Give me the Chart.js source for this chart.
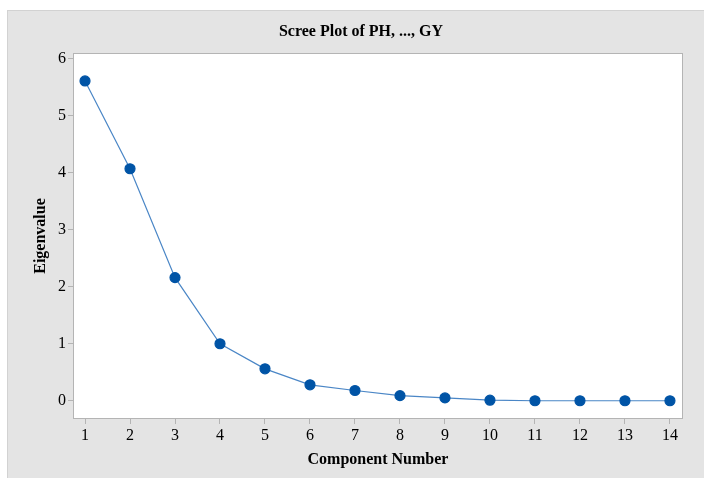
<!DOCTYPE html>
<html>
<head>
<meta charset="utf-8">
<script src="https://cdn.jsdelivr.net/npm/chart.js@4/dist/chart.umd.min.js"></script>
<style>
  html, body { margin: 0; padding: 0; background: #ffffff; }
  #wrap { width: 704px; height: 478px; }
</style>
</head>
<body>
<div id="wrap"><canvas id="screeChart" width="704" height="478"></canvas></div>
<script>
// data
const components = [1, 2, 3, 4, 5, 6, 7, 8, 9, 10, 11, 12, 13, 14];
const eigenvalues = [5.61, 4.07, 2.16, 1.00, 0.56, 0.28, 0.18, 0.09, 0.05, 0.01, 0.00, 0.00, 0.00, 0.00];
const yTicks = [0, 1, 2, 3, 4, 5, 6];

const serif = '"Liberation Serif", "DejaVu Serif", serif';

// gray frame, white plot area and the title
const backdrop = {
    id: 'backdrop',
    beforeDraw(chart) {
        const ctx = chart.ctx;
        const a = chart.chartArea;
        ctx.save();
        ctx.fillStyle = '#e4e4e4';
        ctx.fillRect(7, 10, chart.width - 7, chart.height - 10);
        ctx.strokeStyle = '#d2d2d2';
        ctx.lineWidth = 1;
        ctx.strokeRect(7.5, 10.5, chart.width - 7, chart.height - 10);
        ctx.fillStyle = '#ffffff';
        ctx.fillRect(a.left, a.top, a.right - a.left, a.bottom - a.top);
        ctx.restore();
    },
    afterDraw(chart) {
        const ctx = chart.ctx;
        const a = chart.chartArea;
        ctx.save();
        ctx.strokeStyle = '#b4b4b4';
        ctx.lineWidth = 1;
        ctx.strokeRect(a.left + 0.5, a.top + 0.5, a.right - a.left - 1, a.bottom - a.top - 1);
        ctx.fillStyle = '#000000';
        ctx.font = 'bold 16px ' + serif;
        ctx.textAlign = 'center';
        ctx.textBaseline = 'middle';
        ctx.fillText('Scree Plot of PH, ..., GY', 361, 32);
        ctx.restore();
    }
};

const screeConfig = {
    type: 'line',
    data: {
        labels: components,
        datasets: [{
            label: 'Eigenvalue',
            data: components.map((c, i) => ({ x: c, y: eigenvalues[i] })),
            borderColor: '#4a86c6',
            borderWidth: 1.2,
            backgroundColor: '#0054a6',
            pointBackgroundColor: '#0054a6',
            pointBorderColor: '#0054a6',
            pointRadius: 5,
            pointHoverRadius: 5,
            tension: 0,
            fill: false
        }]
    },
    options: {
        responsive: false,
        animation: false,
        layout: {
            padding: { left: 7, top: 53, right: 21, bottom: 0 }
        },
        plugins: {
            legend: { display: false },
            title: { display: false },
            tooltip: { enabled: false }
        },
        scales: {
            x: {
                type: 'linear',
                min: 0.733,
                max: 14.29,
                afterBuildTicks(scale) {
                    scale.ticks = components.map(v => ({ value: v }));
                },
                afterFit(scale) { scale.height = 59; },
                grid: {
                    drawOnChartArea: false,
                    drawTicks: true,
                    tickLength: 5,
                    color: '#b4b4b4'
                },
                border: { display: false },
                ticks: {
                    color: '#000000',
                    padding: 2,
                    maxRotation: 0,
                    font: { family: serif, size: 16 }
                },
                title: {
                    display: true,
                    text: 'Component Number',
                    color: '#000000',
                    padding: { top: 0, bottom: 9 },
                    font: { family: serif, size: 16, weight: 'bold' }
                }
            },
            y: {
                min: -0.32,
                max: 6.1,
                afterBuildTicks(scale) {
                    scale.ticks = yTicks.map(v => ({ value: v }));
                },
                afterFit(scale) { scale.width = 66; },
                grid: {
                    drawOnChartArea: false,
                    drawTicks: true,
                    tickLength: 5,
                    color: '#b4b4b4'
                },
                border: { display: false },
                ticks: {
                    color: '#000000',
                    padding: 2,
                    font: { family: serif, size: 16 }
                },
                title: {
                    display: true,
                    text: 'Eigenvalue',
                    color: '#000000',
                    padding: { top: 24, bottom: 0 },
                    font: { family: serif, size: 16, weight: 'bold' }
                }
            }
        }
    },
    plugins: [backdrop]
};

window.onload = function () {
    const ctx = document.getElementById('screeChart').getContext('2d');
    new Chart(ctx, screeConfig);
};
</script>
</body>
</html>
